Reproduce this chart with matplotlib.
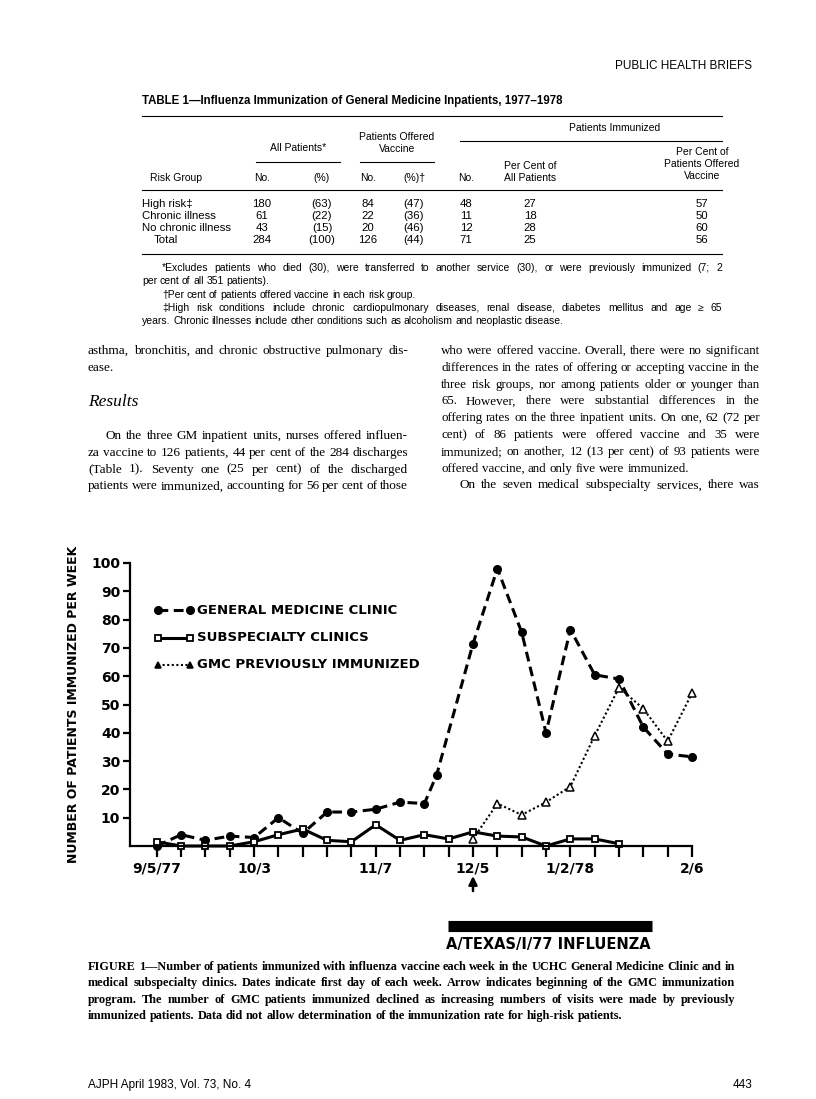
import matplotlib
matplotlib.use("Agg")
import matplotlib.pyplot as plt

# ---- figure 1 data: weeks counted from 9/5/77 ----
gmc_weeks = [0, 1, 2, 3, 4, 5, 6, 7, 8, 9, 10, 11, 11.5, 13, 14, 15, 16, 17, 18, 19, 20, 21, 22]
gmc = [0, 4, 2, 3.5, 3, 10, 4.5, 12, 12, 13, 15.5, 15, 25, 71.5, 98, 75.5, 40, 76.5, 60.5, 59, 42, 32.5, 31.5]
sub_weeks = list(range(20))
sub = [1.5, 0, 0, 0, 1.5, 4, 6, 2, 1.5, 7.5, 2, 4, 2.5, 5, 3.5, 3.2, 0, 2.5, 2.5, 0.8]
prev_weeks = list(range(13, 23))
prev = [2.5, 15, 11, 15.5, 21, 39, 56, 48.5, 37, 54]
tick_weeks = [0, 4, 9, 13, 17, 22]
tick_labels = ["9/5/77", "10/3", "11/7", "12/5", "1/2/78", "2/6"]
series_names = ["GENERAL MEDICINE CLINIC", "SUBSPECIALTY CLINICS", "GMC PREVIOUSLY IMMUNIZED"]

# ---- table 1 data ----
risk_groups = ["High risk\u2021", "Chronic illness", "No chronic illness", "Total"]
all_no = [180, 61, 43, 284]
all_pct = [63, 22, 15, 100]
off_no = [84, 22, 20, 126]
off_pct = [47, 36, 46, 44]
imm_no = [48, 11, 12, 71]
imm_pct_all = [27, 18, 28, 25]
imm_pct_off = [57, 50, 60, 56]

SANS = "Liberation Sans"
SERIF = "Liberation Serif"
CHART = "DejaVu Sans"

fig = plt.figure(figsize=(8.16, 10.99), dpi=100)
page = fig.add_axes([0, 0, 1, 1])
page.set_xlim(0, 816)
page.set_ylim(1099, 0)
page.axis("off")
renderer = fig.canvas.get_renderer()


def paragraph(lines, x0, x1, y0, step, indent=0, last_ragged=True, **kw):
    # justified block of lines sharing one font size, shrunk until no line is cramped
    size = kw.pop("fontsize")
    rows = []
    for i, line in enumerate(lines):
        ts = [page.text(0, y0 + i * step, w, va="center", fontsize=size, **kw) for w in line.split(" ")]
        rows.append(ts)

    def gaps():
        out = []
        for i, ts in enumerate(rows):
            widths = [t.get_window_extent(renderer).width for t in ts]
            left = x0 + (indent if i == 0 else 0)
            out.append((left, widths, (x1 - left - sum(widths)) / max(len(ts) - 1, 1)))
        return out

    space = lambda s: 0.25 * s * 100 / 72
    g = gaps()
    check = g[:-1] if last_ragged else g
    while check and min(gp for _, _, gp in check) < 0.85 * space(size) and size > 6:
        size -= 0.1
        for ts in rows:
            for t in ts:
                t.set_fontsize(size)
        g = gaps()
        check = g[:-1] if last_ragged else g
    for i, (ts, (left, widths, gp)) in enumerate(zip(rows, g)):
        if last_ragged and i == len(rows) - 1:
            gp = space(size)
        x = left
        for t, w in zip(ts, widths):
            t.set_x(x)
            x += w + gp


# header
page.text(752, 66, "PUBLIC HEALTH BRIEFS", family=SANS, fontsize=8.5, ha="right", va="center")

# table
tx0, tx1 = 142, 722
page.text(tx0, 101, "TABLE 1\u2014Influenza Immunization of General Medicine Inpatients, 1977\u20131978",
          family=SANS, fontsize=8.3, weight="bold", va="center")
for y, a, b in [(116, tx0, tx1), (141, 460, tx1), (162, 256, 340), (162, 360, 434), (190, tx0, tx1), (254, tx0, tx1)]:
    page.plot([a, b], [y, y], color="black", lw=0.8)
tk = dict(family=SANS, fontsize=7.5, ha="center", va="center")
page.text(615, 128, "Patients Immunized", **tk)
page.text(298, 148, "All Patients*", **tk)
page.text(397, 137, "Patients Offered", **tk)
page.text(397, 149, "Vaccine", **tk)
page.text(530, 166, "Per Cent of", **tk)
page.text(530, 178, "All Patients", **tk)
page.text(702, 152, "Per Cent of", **tk)
page.text(702, 164, "Patients Offered", **tk)
page.text(702, 176, "Vaccine", **tk)
col_x = [262, 322, 368, 414, 466, 530, 702]
for x, lab in zip([176] + col_x[:5], ["Risk Group", "No.", "(%)", "No.", "(%)\u2020", "No."]):
    page.text(x, 178, lab, **tk)
rk = dict(family=SANS, fontsize=8.2, va="center")
for i, g in enumerate(risk_groups):
    y = 204 + i * 12
    page.text(tx0 + (12 if g == "Total" else 0), y, g, **rk)
    vals = [all_no[i], f"({all_pct[i]})", off_no[i], f"({off_pct[i]})", imm_no[i], imm_pct_all[i], imm_pct_off[i]]
    for x, v in zip(col_x, vals):
        page.text(x, y, str(v), ha="center", **rk)
fk = dict(family=SANS, fontsize=7.5)
paragraph(["*Excludes patients who died (30), were transferred to another service (30), or were previously immunized (7; 2",
           "per cent of all 351 patients)."], tx0, tx1, 268, 13.3, indent=20, **fk)
paragraph(["\u2020Per cent of patients offered vaccine in each risk group."], tx0, tx1, 295, 13, indent=20, **fk)
paragraph(["\u2021High risk conditions include chronic cardiopulmonary diseases, renal disease, diabetes mellitus and age \u2265 65",
           "years. Chronic illnesses include other conditions such as alcoholism and neoplastic disease."],
          tx0, tx1, 308, 13.3, indent=20, **fk)

# body text, two columns
bk = dict(family=SERIF, fontsize=9.5)
lx0, lx1, rx0, rx1 = 88, 408, 441, 760
paragraph(["asthma, bronchitis, and chronic obstructive pulmonary dis-", "ease."], lx0, lx1, 351, 16.8, **bk)
page.text(lx0, 402, "Results", va="center", family=SERIF, fontsize=12.5, style="italic")
paragraph(["On the three GM inpatient units, nurses offered influen-",
           "za vaccine to 126 patients, 44 per cent of the 284 discharges",
           "(Table 1). Seventy one (25 per cent) of the discharged",
           "patients were immunized, accounting for 56 per cent of those"],
          lx0, lx1, 436, 16.8, indent=18, last_ragged=False, **bk)
paragraph(["who were offered vaccine. Overall, there were no significant",
           "differences in the rates of offering or accepting vaccine in the",
           "three risk groups, nor among patients older or younger than",
           "65. However, there were substantial differences in the",
           "offering rates on the three inpatient units. On one, 62 (72 per",
           "cent) of 86 patients were offered vaccine and 35 were",
           "immunized; on another, 12 (13 per cent) of 93 patients were",
           "offered vaccine, and only five were immunized."], rx0, rx1, 351, 16.8, **bk)
paragraph(["On the seven medical subspecialty services, there was"], rx0, rx1, 351 + 8 * 16.8, 16.8,
          indent=18, last_ragged=False, **bk)

# chart
ax = fig.add_axes([130 / 816, 1 - 846 / 1099, 562 / 816, 283 / 1099])
ax.patch.set_alpha(0)
ax.plot(gmc_weeks, gmc, color="black", lw=2.2, ls=(0, (3.2, 1.8)), marker="o", ms=5.5, clip_on=False)
ax.plot(sub_weeks, sub, color="black", lw=2.2, marker="s", ms=5, mfc="white", mew=1.3, clip_on=False)
ax.plot(prev_weeks, prev, color="black", lw=1.5, ls=(0, (1, 1.2)), marker="^", ms=5.5, mfc="white", mew=1.1,
        clip_on=False)
ax.set_xlim(-1.1, 22)
ax.set_ylim(0, 100)
for s in ["top", "right"]:
    ax.spines[s].set_visible(False)
ax.spines["left"].set_linewidth(1.6)
ax.spines["bottom"].set_linewidth(1.6)
ax.set_xticks(range(23), minor=True)
ax.set_xticks(tick_weeks)
ax.set_xticklabels(tick_labels)
ax.set_yticks(range(10, 101, 10))
ax.tick_params(axis="x", which="both", direction="out", length=8, width=1.6, pad=3)
ax.tick_params(axis="y", direction="out", length=5, width=1.6, pad=2)
for lab in ax.get_xticklabels() + ax.get_yticklabels():
    lab.set_family(CHART)
    lab.set_weight("bold")
    lab.set_fontsize(10)
ax.set_ylabel("NUMBER OF PATIENTS IMMUNIZED PER WEEK", family=CHART, weight="bold", fontsize=9, labelpad=8)

# legend drawn by hand
styles = [dict(lw=2.2, ls=(0, (3.2, 1.8)), marker="o", ms=5.5),
          dict(lw=2.2, marker="s", ms=5, mfc="white", mew=1.3),
          dict(lw=1.5, ls=(0, (1, 1.2)), marker="^", ms=4.5, mew=1.1)]
for i, (name, st) in enumerate(zip(series_names, styles)):
    y = 610 + i * 27.5
    page.plot([158, 190], [y, y], color="black", **st)
    page.text(197, y, name, family=CHART, weight="bold", fontsize=9.5, va="center")

# arrow, epidemic bar
page.annotate("", xy=(473, 876), xytext=(473, 891),
              arrowprops=dict(arrowstyle="-|>,head_width=0.25,head_length=0.5", color="black", lw=1.8,
                              shrinkA=0, shrinkB=0))
page.plot([448, 652], [926, 926], color="black", lw=8, solid_capstyle="butt")
page.text(548, 945, "A/TEXAS/I/77 INFLUENZA", family=CHART, weight="bold", fontsize=10.5, ha="center", va="center")

# caption
paragraph(["FIGURE 1\u2014Number of patients immunized with influenza vaccine each week in the UCHC General Medicine Clinic and in",
           "medical subspecialty clinics. Dates indicate first day of each week. Arrow indicates beginning of the GMC immunization",
           "program. The number of GMC patients immunized declined as increasing numbers of visits were made by previously",
           "immunized patients. Data did not allow determination of the immunization rate for high-risk patients."],
          88, 735, 967, 16.3, family=SERIF, fontsize=9.4, weight="bold")

# footer
page.text(88, 1085, "AJPH April 1983, Vol. 73, No. 4", family=SANS, fontsize=8.5, va="center")
page.text(752, 1085, "443", family=SANS, fontsize=8.5, ha="right", va="center")

fig.savefig("out.png", dpi=100)
